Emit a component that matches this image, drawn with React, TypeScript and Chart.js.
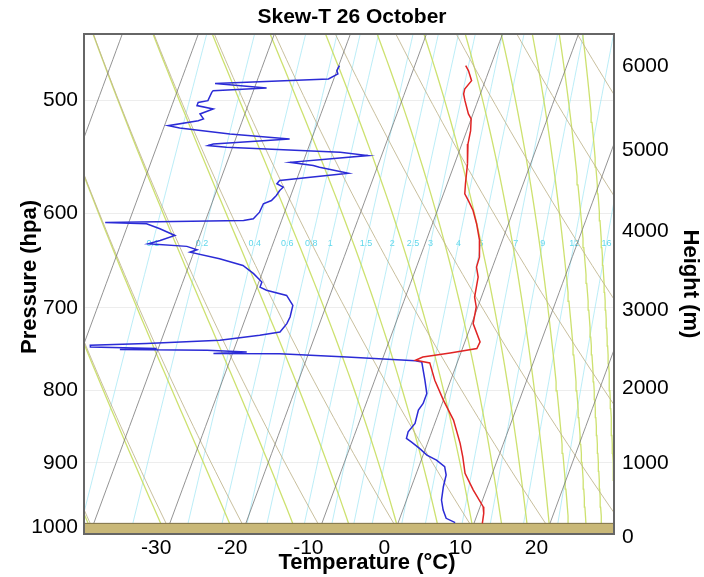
import React, { useEffect, useRef } from "react";
import { Chart, registerables } from "chart.js";

Chart.register(...registerables);

const FONT = "'Liberation Sans', Arial, Helvetica, sans-serif";

// ---- texts and ticks ----
const TITLE = "Skew-T 26 October";
const X_TITLE = "Temperature (°C)";
const Y_TITLE = "Pressure (hpa)";
const Y2_TITLE = "Height (m)";
const TEMP_TICKS = [-30, -20, -10, 0, 10, 20];
const PRESSURE_TICKS = [500, 600, 700, 800, 900, 1000];
const HEIGHT_TICKS = [0, 1000, 2000, 3000, 4000, 5000, 6000];
const HEIGHT_REF_P = 1016; // pressure at 0 m for the height scale

// ---- diagram frame ----
const P_TOP = 448.7;
const P_BOTTOM = 1010.3;
const X_MIN = -39.5;
const X_MAX = 30.2;
const SKEW = 29.9; // degC per ln(p)
const P_SKEW_REF = 1054;
const SURFACE_P = 993;

// ---- reference line families ----
const ISOTHERMS = [-90, -80, -70, -60, -50, -40, -30, -20, -10, 0, 10, 20, 30, 40];
const DRY_ADIABATS = [-50, -40, -30, -20, -10, 0, 10, 20, 30, 40, 50, 60, 70, 80, 90, 100];
const MOIST_ADIABATS = [-50, -40, -30, -20, -10, 0, 10, 20, 30, 40, 50, 60, 70, 80, 90, 100];
const MIXING_RATIOS = [0.1, 0.2, 0.4, 0.6, 0.8, 1, 1.5, 2, 2.5, 3, 4, 5, 7, 9, 12, 16];
const MIXING_LABELS = ["0.1", "0.2", "0.4", "0.6", "0.8", "1", "1.5", "2", "2.5", "3", "4", "5", "7", "9", "12", "16"];
const MIX_LABEL_P = 630;

// ---- sounding: temperature ----
const TEMP_P = [472.4, 476.2, 484.0, 490.6, 494.6, 500.0, 510.9, 515.0, 524.9, 536.4, 554.0, 572.2, 581.6, 588.0, 597.6, 610.5, 627.3, 644.6, 655.1, 665.8, 687.7, 698.9, 718.0, 739.7, 747.7, 753.1, 758.0, 762.0, 765.3, 787.1, 813.0, 839.8, 872.1, 891.3, 915.6, 940.7, 966.5, 977.0, 992.9];
const TEMP_T = [-13.3, -12.7, -11.8, -12.3, -12.2, -11.7, -10.6, -10.0, -9.5, -9.2, -8.3, -7.6, -7.2, -6.4, -5.3, -4.2, -3.0, -2.2, -2.1, -1.4, -0.9, -0.2, 0.2, 2.0, 1.9, -1.4, -4.8, -5.6, -3.6, -2.1, 0.0, 2.3, 4.3, 5.3, 6.4, 8.3, 10.4, 10.8, 11.1];

// ---- sounding: dew point ----
const DEW_P = [472.4, 476.2, 478.8, 482.7, 486.2, 489.8, 491.9, 493.3, 500.0, 501.4, 504.0, 506.8, 510.9, 515.0, 516.5, 520.7, 522.6, 527.7, 532.0, 536.4, 537.8, 539.3, 543.7, 546.6, 552.6, 555.5, 557.0, 562.5, 569.2, 572.2, 575.4, 578.5, 583.2, 588.0, 591.1, 599.2, 605.6, 607.3, 609.3, 610.5, 615.5, 622.3, 627.3, 630.7, 633.4, 636.9, 639.4, 646.2, 653.3, 662.1, 671.2, 676.7, 680.2, 685.9, 697.0, 710.3, 718.0, 727.8, 731.8, 737.7, 741.6, 743.7, 745.8, 747.7, 748.9, 749.8, 751.8, 753.8, 754.0, 758.0, 762.6, 764.1, 787.1, 804.3, 817.4, 826.3, 844.3, 855.9, 865.1, 869.9, 879.2, 888.9, 896.1, 905.8, 918.1, 935.7, 956.1, 971.7, 984.9, 991.9];
const DEW_T = [-29.9, -30.0, -29.7, -30.7, -45.4, -38.4, -45.3, -45.4, -45.5, -46.7, -46.7, -44.4, -45.9, -45.2, -45.8, -49.5, -47.9, -41.0, -32.9, -42.7, -43.3, -40.8, -25.6, -21.8, -31.7, -28.5, -27.6, -23.5, -32.2, -32.4, -31.4, -31.7, -31.9, -32.3, -33.2, -33.3, -33.8, -35.0, -53.1, -47.6, -45.6, -43.3, -45.0, -46.4, -41.2, -39.7, -40.5, -36.3, -32.9, -31.1, -29.6, -29.6, -28.6, -25.7, -24.4, -24.2, -24.3, -24.8, -27.3, -32.3, -41.8, -49.1, -49.0, -40.2, -45.0, -33.5, -28.2, -32.5, -23.8, -14.8, -5.6, -4.7, -3.4, -2.5, -2.5, -2.8, -2.6, -3.1, -3.0, -2.2, -0.8, 0.5, 2.0, 3.4, 4.0, 4.2, 4.6, 5.3, 6.1, 7.5];

// ---- thermodynamics for the diagram background ----
const RD = 287.04;
const CPD = 1005.7;
const LV = 2.501e6;
const EPS = 0.622;
const KAPPA = RD / CPD;

const skewX = (t: number, p: number) => t + SKEW * Math.log(P_SKEW_REF / p);
const satVap = (tc: number) => 6.112 * Math.exp((17.67 * tc) / (tc + 243.5));
const satMix = (tc: number, p: number) => {
  const e = satVap(tc);
  return (EPS * e) / (p - e);
};
const thetaE = (tk: number, p: number) =>
  tk * Math.pow(1000 / p, KAPPA) * Math.exp((LV * satMix(tk - 273.15, p)) / (CPD * tk));
const moistT = (te: number, p: number) => {
  let lo = 150;
  let hi = 330;
  for (let i = 0; i < 50; i++) {
    const mid = (lo + hi) / 2;
    if (thetaE(mid, p) > te) hi = mid;
    else lo = mid;
  }
  return (lo + hi) / 2 - 273.15;
};
const mixTd = (w: number, p: number) => {
  const e = (w * p) / (622 + w);
  const l = Math.log(e / 6.112);
  return (243.5 * l) / (17.67 - l);
};
const heightToP = (h: number) => HEIGHT_REF_P * Math.pow(1 - 2.25577e-5 * h, 5.25588);

const LEVELS: number[] = (() => {
  const out: number[] = [];
  const a = Math.log(1040);
  const b = Math.log(435);
  const n = 60;
  for (let i = 0; i <= n; i++) out.push(Math.exp(a + ((b - a) * i) / n));
  return out;
})();

const bgLine = (fn: (p: number) => number, color: string, width: number) => ({
  data: LEVELS.map((p) => ({ x: skewX(fn(p), p), y: p })),
  showLine: true,
  borderColor: color,
  borderWidth: width,
  pointRadius: 0,
  fill: false,
});

export default function App() {
  const ref = useRef<HTMLCanvasElement | null>(null);

  useEffect(() => {
    document.body.style.margin = "0";
    if (!ref.current) return;

    const profile = (ps: number[], ts: number[], color: string) => ({
      data: ps.map((p, i) => ({ x: skewX(ts[i], p), y: p })),
      showLine: true,
      borderColor: color,
      borderWidth: 1.5,
      pointRadius: 0,
      fill: false,
    });

    const datasets: any[] = [
      profile(TEMP_P, TEMP_T, "#e02424"),
      profile(DEW_P, DEW_T, "#2b2bd6"),
      {
        data: [
          { x: X_MIN - 10, y: SURFACE_P },
          { x: X_MAX + 10, y: SURFACE_P },
        ],
        showLine: true,
        borderColor: "#7d7046",
        borderWidth: 1,
        backgroundColor: "#c9b878",
        pointRadius: 0,
        fill: "start",
      },
      ...ISOTHERMS.map((t) => bgLine(() => t, "rgba(120,120,120,0.8)", 1)),
      ...DRY_ADIABATS.map((th) =>
        bgLine((p) => (th + 273.15) * Math.pow(p / 1000, KAPPA) - 273.15, "rgba(190,180,140,0.85)", 1)
      ),
      ...MOIST_ADIABATS.map((te) => bgLine((p) => moistT(te + 273.15, p), "rgba(200,222,95,0.9)", 1.3)),
      ...MIXING_RATIOS.map((w) => bgLine((p) => mixTd(w, p), "rgba(150,228,242,0.65)", 1)),
    ];

    const mixLabels = {
      id: "mixLabels",
      beforeDatasetsDraw(chart: any) {
        const { ctx, scales } = chart;
        ctx.save();
        ctx.font = `9px ${FONT}`;
        ctx.fillStyle = "rgb(95,215,235)";
        ctx.textAlign = "center";
        ctx.textBaseline = "middle";
        const py = scales.y.getPixelForValue(MIX_LABEL_P);
        MIXING_RATIOS.forEach((w, i) => {
          const px = scales.x.getPixelForValue(skewX(mixTd(w, MIX_LABEL_P), MIX_LABEL_P));
          ctx.fillText(MIXING_LABELS[i], px, py);
        });
        ctx.restore();
      },
    };

    const frame = {
      id: "frame",
      afterDatasetsDraw(chart: any) {
        const { ctx, chartArea } = chart;
        ctx.save();
        ctx.strokeStyle = "#666";
        ctx.lineWidth = 2;
        ctx.strokeRect(chartArea.left, chartArea.top, chartArea.right - chartArea.left, chartArea.bottom - chartArea.top);
        ctx.restore();
      },
    };

    // axis titles placed as in the reference (slightly off-centre)
    const axisTitles = {
      id: "axisTitles",
      afterDraw(chart: any) {
        const { ctx, chartArea } = chart;
        ctx.save();
        ctx.font = `bold 22px ${FONT}`;
        ctx.fillStyle = "#000";
        ctx.textAlign = "center";
        ctx.textBaseline = "middle";
        ctx.fillText(X_TITLE, (chartArea.left + chartArea.right) / 2 + 18, chart.height - 14);
        ctx.translate(30, (chartArea.top + chartArea.bottom) / 2 - 7);
        ctx.rotate(-Math.PI / 2);
        ctx.fillText(Y_TITLE, 0, 0);
        ctx.restore();
      },
    };

    const tickFont = { family: FONT, size: 21 };
    const titleFont = { family: FONT, size: 22, weight: "bold" as const, lineHeight: 1.2 };

    const chart = new Chart(ref.current, {
      type: "scatter",
      data: { datasets },
      plugins: [mixLabels, frame, axisTitles],
      options: {
        animation: false,
        responsive: false,
        events: [],
        layout: { padding: 0 },
        plugins: {
          legend: { display: false },
          tooltip: { enabled: false },
          title: {
            display: true,
            text: TITLE,
            color: "#000",
            font: { family: FONT, size: 21, weight: "bold", lineHeight: 1 },
            padding: { top: 7, bottom: 6 },
          },
        },
        scales: {
          x: {
            type: "linear",
            position: "bottom",
            min: X_MIN,
            max: X_MAX,
            bounds: "data",
            afterBuildTicks: (s: any) => {
              s.ticks = TEMP_TICKS.map((v) => ({ value: v }));
            },
            afterFit: (s: any) => {
              s.height = 43;
            },
            grid: { display: false, drawTicks: false },
            border: { display: false },
            ticks: { color: "#000", font: tickFont, padding: 2, maxRotation: 0, autoSkip: false, callback: (v: any) => String(v) },
            title: { display: false, text: X_TITLE },
          },
          y: {
            type: "logarithmic",
            position: "left",
            reverse: true,
            min: P_TOP,
            max: P_BOTTOM,
            bounds: "data",
            afterBuildTicks: (s: any) => {
              s.ticks = PRESSURE_TICKS.map((v) => ({ value: v }));
            },
            afterFit: (s: any) => {
              s.width = 84;
            },
            grid: { color: "rgba(0,0,0,0.07)", drawTicks: false },
            border: { display: false },
            ticks: { color: "#000", font: tickFont, padding: 6, autoSkip: false, callback: (v: any) => String(v) },
            title: { display: false, text: Y_TITLE },
          },
          y2: {
            type: "logarithmic",
            position: "right",
            reverse: true,
            min: P_TOP,
            max: P_BOTTOM,
            bounds: "data",
            afterBuildTicks: (s: any) => {
              s.ticks = HEIGHT_TICKS.map((h) => ({ value: heightToP(h) }));
            },
            afterFit: (s: any) => {
              s.width = 90;
            },
            grid: { display: false, drawTicks: false },
            border: { display: false },
            ticks: {
              color: "#000",
              font: tickFont,
              padding: 8,
              autoSkip: false,
              callback: (_v: any, i: number) => String(HEIGHT_TICKS[i]),
            },
            title: { display: true, text: Y2_TITLE, color: "#000", font: titleFont, padding: { top: 1, bottom: 0 } },
          },
        },
      } as any,
    });

    return () => chart.destroy();
  }, []);

  return <canvas ref={ref} width={704} height={577} style={{ display: "block" }} />;
}
